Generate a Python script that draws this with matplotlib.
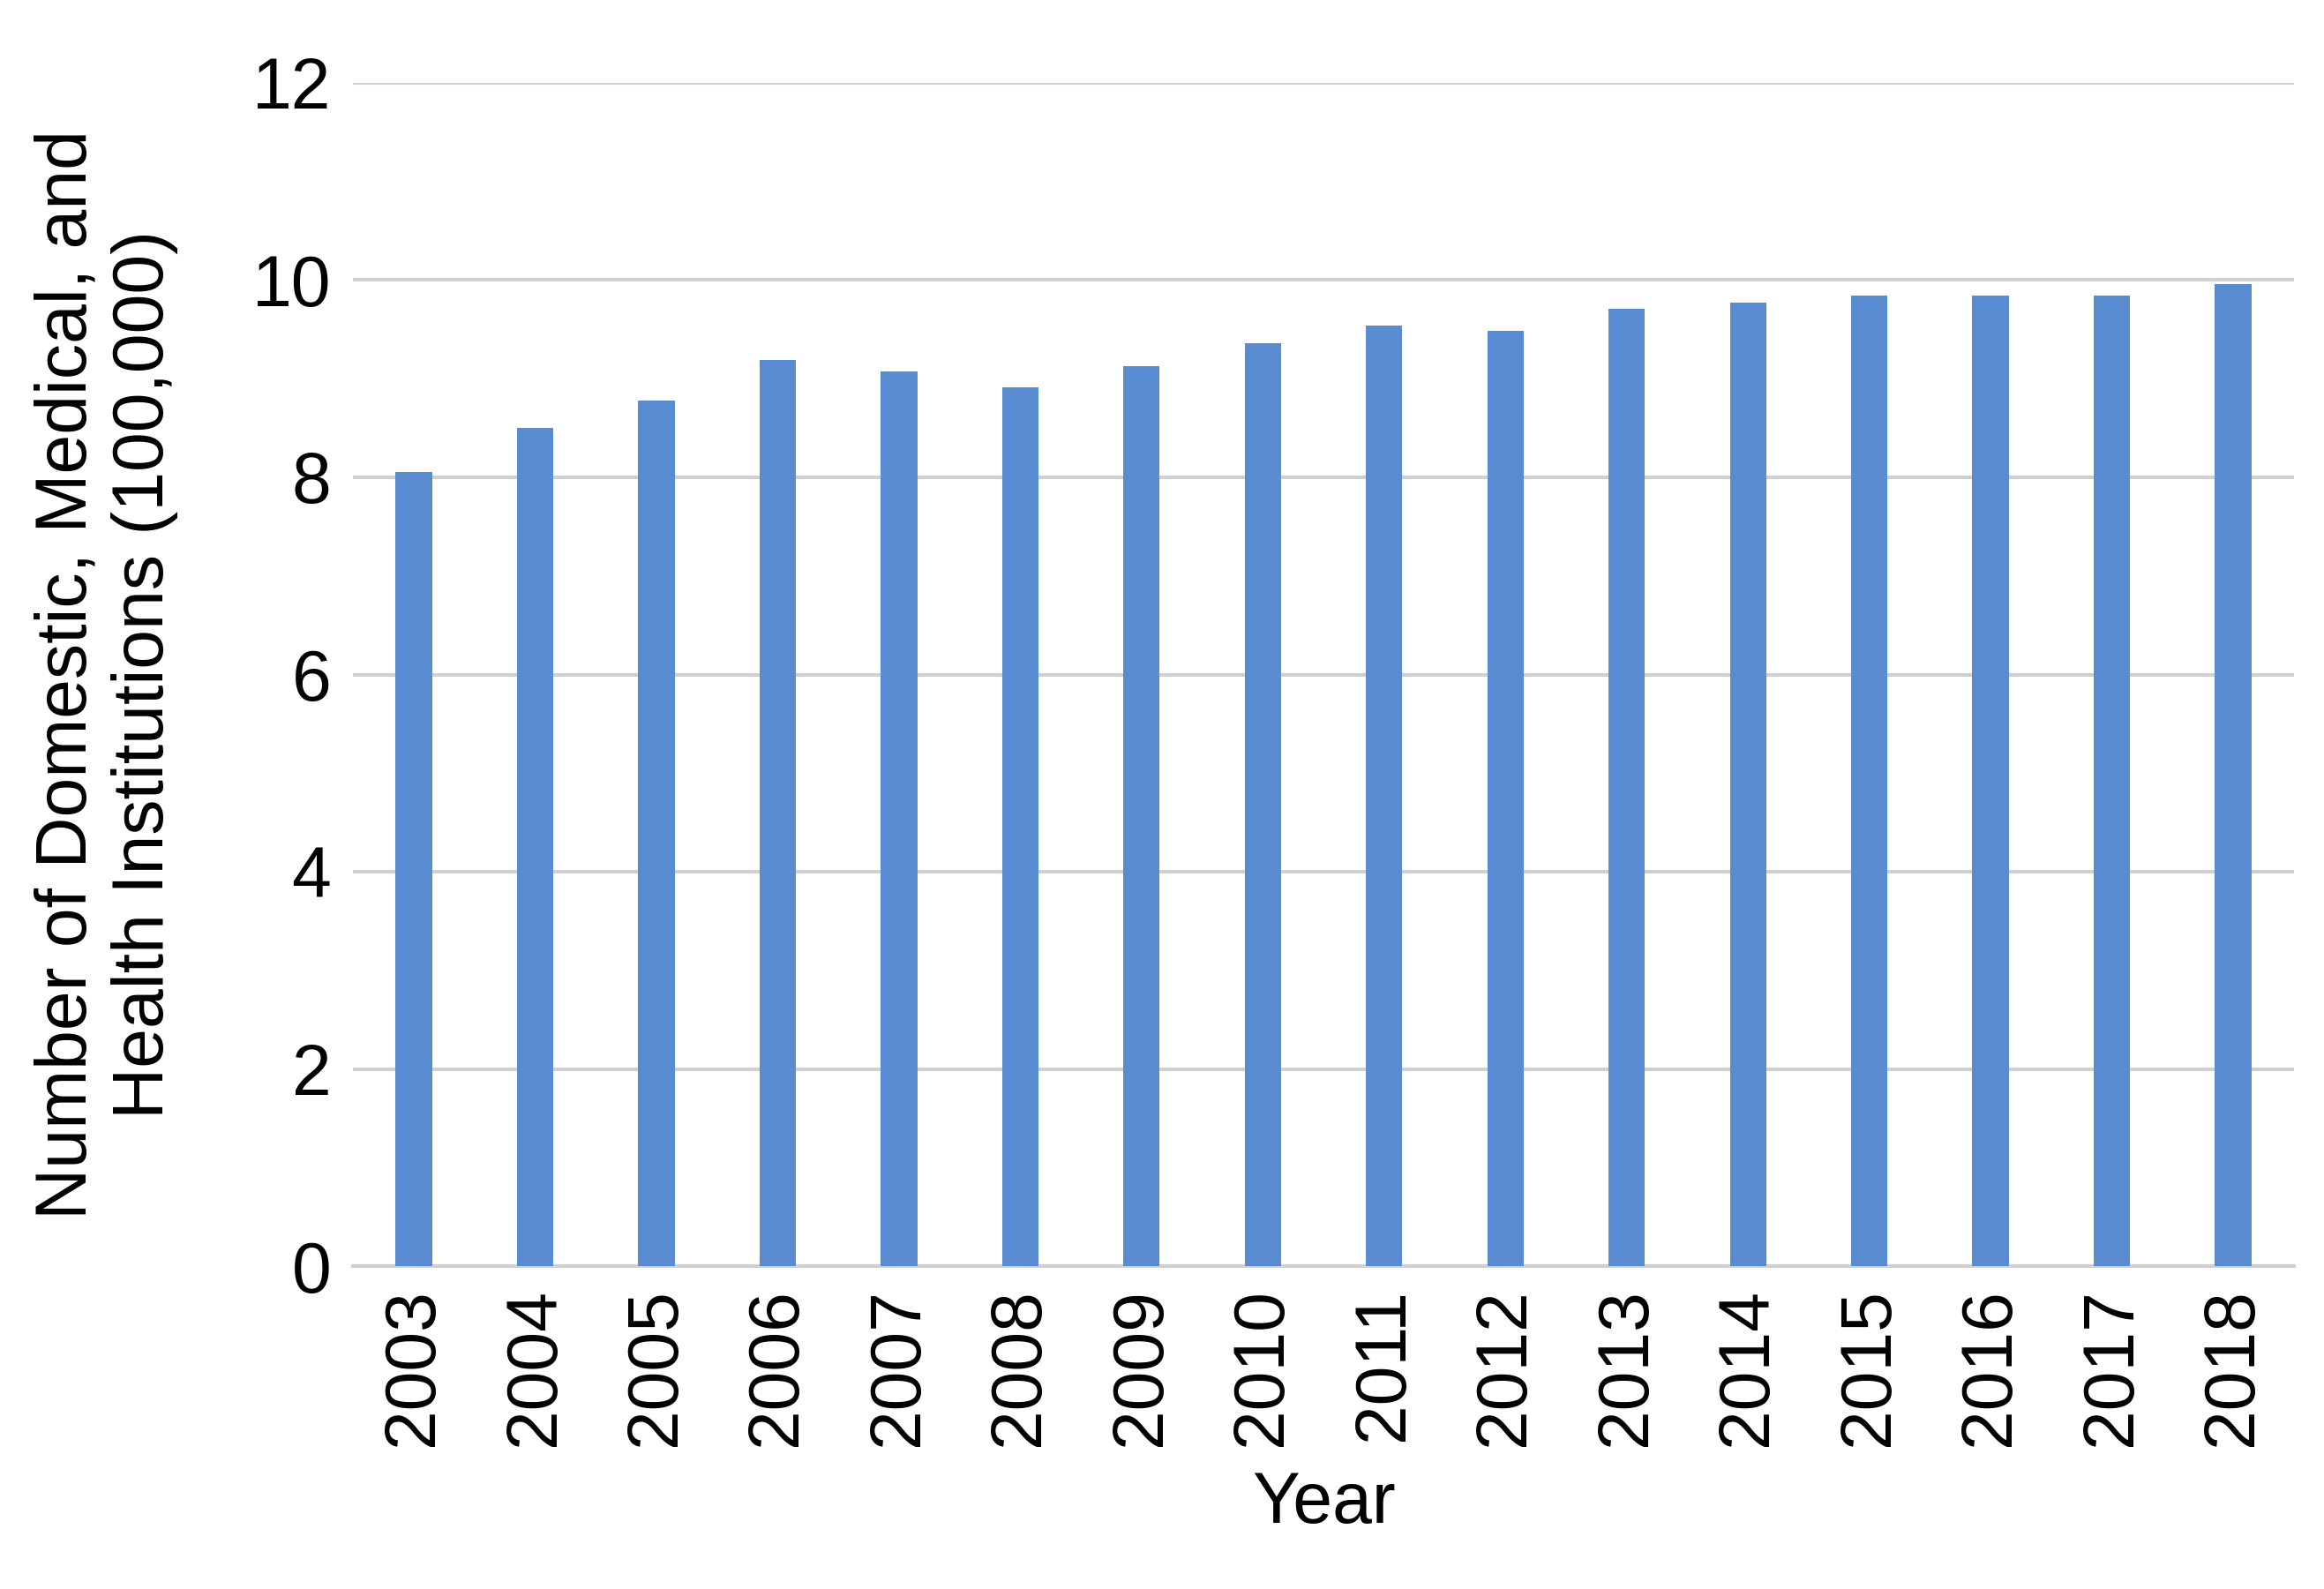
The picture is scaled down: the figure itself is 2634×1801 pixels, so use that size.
import matplotlib
matplotlib.use("Agg")
import matplotlib.pyplot as plt

years = [str(y) for y in range(2003, 2019)]
values = [8.05, 8.50, 8.78, 9.19, 9.07, 8.91, 9.13, 9.36, 9.54, 9.48, 9.71, 9.77, 9.84, 9.84, 9.84, 9.96]

plt.rcParams['font.family'] = ['Liberation Sans', 'DejaVu Sans']
fig = plt.figure(figsize=(26.34, 18.01), dpi=100)
ax = fig.add_axes([0.152, 0.203, 0.835, 0.745])
x = range(len(years))
ax.bar(x, values, width=0.3, color='#588BCF', zorder=3)
ax.set_ylim(0, 12)
ax.set_yticks(range(0, 13, 2))
ax.set_xlim(-0.5, len(years) - 0.5)
ax.set_xticks(list(x))
ax.set_xticklabels(years, rotation=90)
ax.grid(axis='y', color='#D0D0D0', linewidth=3, zorder=0)
for s in ['top', 'right', 'left']:
    ax.spines[s].set_visible(False)
ax.spines['bottom'].set_color('#D0D0D0')
ax.spines['bottom'].set_linewidth(3)
ax.tick_params(axis='both', length=0, labelsize=58, pad=18)
ax.set_xlabel('Year', fontsize=58, labelpad=20)
ax.set_ylabel('Number of Domestic, Medical, and\nHealth Institutions (100,000)', fontsize=58)
ax.yaxis.set_label_coords(-0.09, 0.5)
fig.savefig('out.png', dpi=100)
